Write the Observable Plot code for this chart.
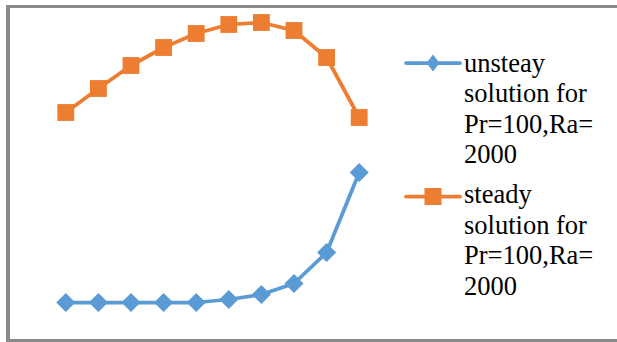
<!DOCTYPE html>
<html>
<head>
<meta charset="utf-8">
<script src="https://cdn.jsdelivr.net/npm/d3@7"></script>
<script src="https://cdn.jsdelivr.net/npm/@observablehq/plot@0.6"></script>
<style>
  html, body { margin: 0; padding: 0; background: #fff; width: 617px; height: 342px; overflow: hidden; }
  #chart { position: absolute; left: 0; top: 0; }
  #frame {
    position: absolute; left: 6px; top: 5px; width: 640px; height: 337px;
    box-sizing: border-box; border-style: solid; border-color: #8a8a8a;
    border-width: 3px 3px 3px 4px; pointer-events: none;
  }
  .legend-item { position: absolute; left: 404px; }
  .legend-item svg { position: absolute; left: 0; top: 0; overflow: visible; }
  .legend-item .label {
    position: absolute; left: 60px; top: 0; white-space: pre;
    font-family: "Liberation Serif", "DejaVu Serif", serif;
    font-size: 26.5px; line-height: 30.5px; color: #000;
  }
</style>
</head>
<body>
<div id="chart"></div>
<div id="legend"></div>
<div id="frame"></div>
<script>
// Time steps along the horizontal direction
const steps = [1, 2, 3, 4, 5, 6, 7, 8, 9, 10];
// Steady solution for Pr=100, Ra=2000
const steadyValues = [2.28, 2.52, 2.75, 2.93, 3.07, 3.16, 3.18, 3.10, 2.83, 2.23];
// Unsteady solution for Pr=100, Ra=2000
const unsteadyValues = [0.38, 0.38, 0.38, 0.38, 0.38, 0.41, 0.46, 0.57, 0.88, 1.68];

const seriesNames = [
  "unsteay\nsolution for\nPr=100,Ra=\n2000",
  "steady\nsolution for\nPr=100,Ra=\n2000"
];
const seriesColors = ["#5b9bd5", "#ed7d31"];

const unsteady = steps.map((s, i) => ({step: s, value: unsteadyValues[i]}));
const steady = steps.map((s, i) => ({step: s, value: steadyValues[i]}));

const plot = Plot.plot({
  width: 617,
  height: 342,
  margin: 0,
  style: {background: "transparent"},
  x: {domain: [1, 10], range: [65.3, 358.7], axis: null},
  y: {domain: [0, 3.4], range: [340, 0], axis: null},
  marks: [
    Plot.line(unsteady, {x: "step", y: "value", stroke: seriesColors[0], strokeWidth: 3.75, strokeLinejoin: "round"}),
    Plot.dot(unsteady, {x: "step", y: "value", symbol: "diamond2", r: 8.6, fill: seriesColors[0], stroke: "none"}),
    Plot.line(steady, {x: "step", y: "value", stroke: seriesColors[1], strokeWidth: 3.75, strokeLinejoin: "round"}),
    Plot.dot(steady, {x: "step", y: "value", symbol: "square", r: 9.5, fill: seriesColors[1], stroke: "none"})
  ]
});
document.getElementById("chart").appendChild(plot);

// Legend: a line swatch with its marker, then the wrapped series label
const legend = document.getElementById("legend");
const legendTops = [47.6, 179.1];
const swatchY = [15, 17.5];
seriesNames.forEach((name, i) => {
  const item = document.createElement("div");
  item.className = "legend-item";
  item.style.top = legendTops[i] + "px";
  const y = swatchY[i];
  const marker = i === 0
    ? `<path d="M29,${y - 8.5}L35.5,${y}L29,${y + 8.5}L22.5,${y}Z" fill="${seriesColors[i]}"/>`
    : `<rect x="20.5" y="${y - 8.5}" width="17" height="17" fill="${seriesColors[i]}"/>`;
  item.innerHTML =
    `<svg width="60" height="40"><line x1="2" x2="56" y1="${y}" y2="${y}" stroke="${seriesColors[i]}" stroke-width="3.75" stroke-linecap="round"/>${marker}</svg>` +
    `<div class="label">${name}</div>`;
  legend.appendChild(item);
});
</script>
</body>
</html>
